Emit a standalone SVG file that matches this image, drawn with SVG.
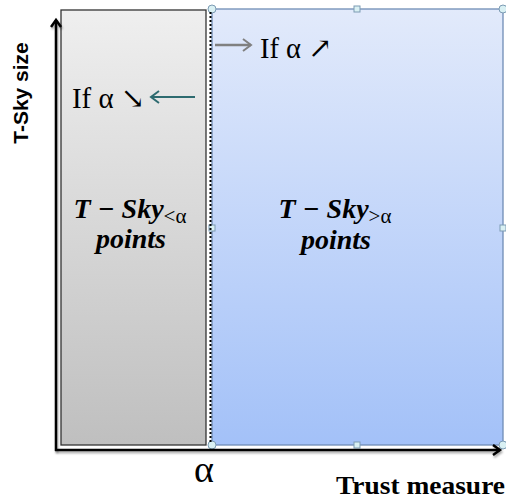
<svg xmlns="http://www.w3.org/2000/svg" width="506" height="503" viewBox="0 0 506 503">
<defs>
<linearGradient id="gGray" x1="0" y1="0" x2="0" y2="1"><stop offset="0" stop-color="#efefef"/><stop offset="1" stop-color="#bfbfbf"/></linearGradient>
<linearGradient id="gBlue" x1="0" y1="0" x2="0" y2="1"><stop offset="0" stop-color="#e2eafb"/><stop offset="1" stop-color="#a3c1f8"/></linearGradient>
<filter id="sh" filterUnits="userSpaceOnUse" x="0" y="0" width="506" height="503"><feDropShadow dx="1" dy="2" stdDeviation="1.2" flood-color="#000" flood-opacity="0.35"/></filter>
<marker id="ah" markerWidth="12" markerHeight="12" refX="9" refY="6" orient="auto" markerUnits="userSpaceOnUse"><path d="M2,1 L9,6 L2,11" fill="none" stroke="#000" stroke-width="2.5"/></marker>
<marker id="ahGray" markerWidth="12" markerHeight="14" refX="10" refY="7" orient="auto" markerUnits="userSpaceOnUse"><path d="M2,1 L10,7 L2,13" fill="none" stroke="#808080" stroke-width="2"/></marker>
<marker id="ahTeal" markerWidth="12" markerHeight="14" refX="10" refY="7" orient="auto" markerUnits="userSpaceOnUse"><path d="M2,1 L10,7 L2,13" fill="none" stroke="#2e6b70" stroke-width="2"/></marker>
</defs>
<style>
.serif{font-family:"Liberation Serif","DejaVu Serif",serif;fill:#000}
.bi{font-family:"Liberation Serif","DejaVu Serif",serif;font-weight:bold;font-style:italic;fill:#000}
.h{fill:#d9f0f3;stroke:#7c9bb3;stroke-width:1}
</style>
<g id="region-low">
<rect x="61" y="10" width="145" height="435" fill="url(#gGray)" stroke="#333" stroke-width="1.3"/>
<text class="bi" x="130" y="218" font-size="28" text-anchor="middle">T − Sky<tspan font-size="21" dy="5" font-style="normal" font-weight="normal">&lt;α</tspan></text>
<text class="bi" x="131" y="248" font-size="28" text-anchor="middle">points</text>
</g>
<g id="region-high">
<rect x="212" y="9" width="291" height="436" fill="url(#gBlue)" stroke="#6f8db5" stroke-width="1.3"/>
<text class="bi" x="335" y="218" font-size="28" text-anchor="middle">T − Sky<tspan font-size="21" dy="5" font-style="normal" font-weight="normal">&gt;α</tspan></text>
<text class="bi" x="336" y="249" font-size="28" text-anchor="middle">points</text>
<circle class="h" cx="212" cy="9" r="4"/>
<circle class="h" cx="503" cy="9" r="4"/>
<circle class="h" cx="212" cy="445" r="4"/>
<circle class="h" cx="503" cy="445" r="4"/>
<rect class="h" x="354" y="6" width="6" height="6"/>
<rect class="h" x="354" y="442" width="6" height="6"/>
<rect class="h" x="209" y="225" width="6" height="6"/>
<rect class="h" x="500" y="225" width="6" height="6"/>
</g>
<g id="connectors">
<line x1="56" y1="451" x2="56" y2="20" stroke="#000" stroke-width="2.5" marker-end="url(#ah)" filter="url(#sh)"/>
<line x1="55" y1="450" x2="500" y2="450" stroke="#000" stroke-width="2.5" marker-end="url(#ah)" filter="url(#sh)"/>
<line x1="210.5" y1="12" x2="210.5" y2="442" stroke="#000" stroke-width="2" stroke-dasharray="2,2"/>
<line x1="195" y1="97" x2="151" y2="97" stroke="#2e6b70" stroke-width="2" marker-end="url(#ahTeal)"/>
<line x1="215" y1="45" x2="251" y2="45" stroke="#808080" stroke-width="2.5" marker-end="url(#ahGray)"/>
</g>
<g id="labels">
<text class="serif" x="72" y="108" font-size="29" textLength="73" lengthAdjust="spacingAndGlyphs">If α ↘</text>
<text class="serif" x="260" y="58" font-size="29" textLength="72" lengthAdjust="spacingAndGlyphs">If α ↗</text>
<text class="serif" x="204" y="482" font-size="38" text-anchor="middle">α</text>
<text x="336" y="494" font-size="25" font-weight="bold" textLength="169" lengthAdjust="spacingAndGlyphs" font-family="Liberation Serif, DejaVu Serif, serif">Trust measure</text>
<text transform="translate(28,93) rotate(-90)" font-size="21" font-weight="bold" text-anchor="middle" font-family="Liberation Sans, Arial, sans-serif">T-Sky size</text>
</g>
</svg>
